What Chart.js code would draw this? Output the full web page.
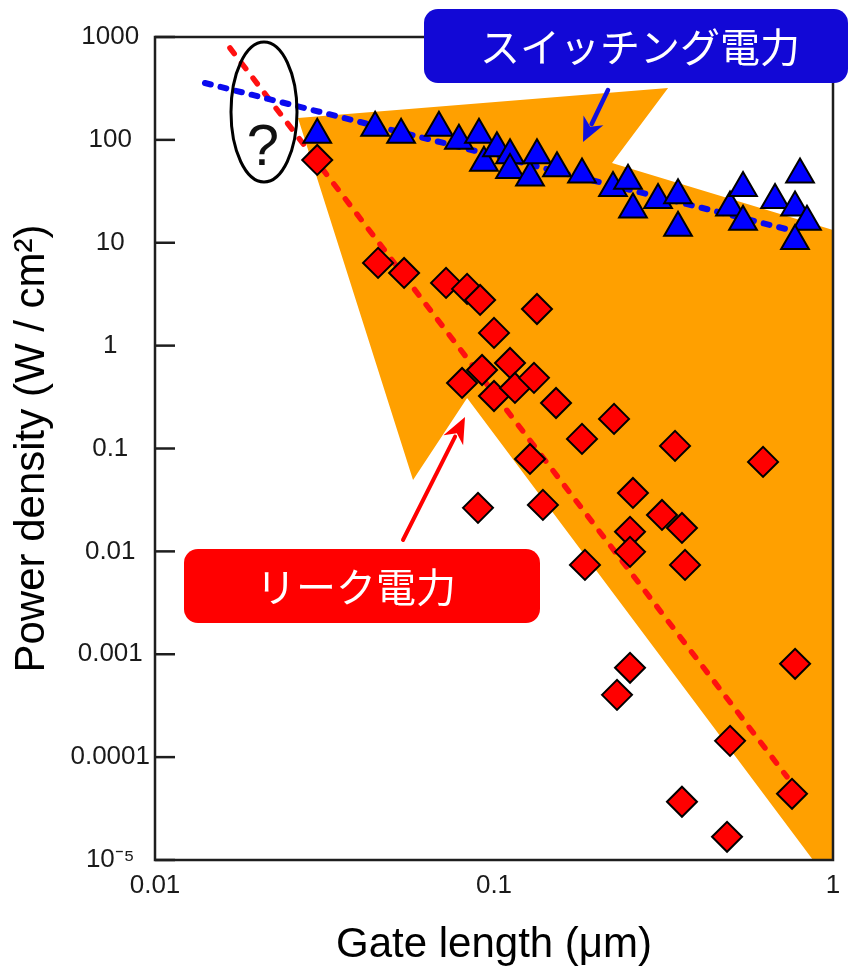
<!DOCTYPE html>
<html>
<head>
<meta charset="utf-8">
<script src="https://cdn.jsdelivr.net/npm/chart.js@4.4.1/dist/chart.umd.min.js"></script>
<style>
  html, body { margin: 0; padding: 0; background: #ffffff; }
  #wrap { width: 860px; height: 967px; position: relative; }
</style>
</head>
<body>
<div id="wrap"><canvas id="c" width="860" height="967"></canvas></div>
<script>
// ---- data ----
const switchX = [0.0301,0.0446,0.0532,0.0688,0.0788,0.0903,0.0934,0.102,0.1115,0.1115,0.1277,0.1339,0.1534,0.1818,0.2244,0.2485,0.257,0.3047,0.349,0.349,0.4969,0.5427,0.5427,0.6745,0.7726,0.7993,0.838,0.7726];
const switchY = [112,131,112,131,98,112,60,83,71,51,43,71,53,46,34,40,21,26,29,14,22,34,16,26,22,46,16,10.4];

const leakX = [0.0301,0.0455,0.0543,0.0722,0.0833,0.0910,0.1339,0.100,0.0922,0.1115,0.0805,0.100,0.1153,0.1312,0.1524,0.1818,0.226,0.342,0.6218,0.1277,0.0897,0.1394,0.257,0.313,0.3585,0.2519,0.2519,0.1855,0.366,0.2519,0.2306,0.773,0.497,0.3585,0.4869,0.757];
const leakY = [63.8,6.37,5.09,4.07,3.56,2.78,2.27,1.33,0.580,0.679,0.434,0.324,0.388,0.486,0.277,0.124,0.194,0.106,0.0741,0.0792,0.0265,0.0283,0.0370,0.0226,0.0169,0.0155,0.00989,0.00739,0.00739,0.000738,0.000403,0.000807,0.000144,3.68e-5,1.68e-5,4.40e-5];

const switchFitX = [0.01404, 0.7468];
const switchFitY = [357, 13.3];
const leakFitX = [0.01664, 0.7316];
const leakFitY = [782, 6.44e-5];

const regionX = [0.02641, 0.3262, 0.2229, 1.0, 1.0, 0.873, 0.0833, 0.0577];
const regionY = [163.2, 319.4, 59.6, 13.3, 1e-5, 1e-5, 0.310, 0.0495];

const xTickVals = [0.01, 0.1, 1];
const xTickLabels = ['0.01', '0.1', '1'];
const yTickVals = [1000, 100, 10, 1, 0.1, 0.01, 0.001, 0.0001, 0.00001];
const yTickLabels = ['1000', '100', '10', '1', '0.1', '0.01', '0.001', '0.0001', '10\u207B\u2075'];

const xTitle = 'Gate length (\u03BCm)';
const yTitle = 'Power density (W / cm\u00B2)';
const switchLabel = 'スイッチング電力';
const leakLabel = 'リーク電力';
const questionMark = '?';

// ---- helpers ----
const pts = (xs, ys) => xs.map((x, i) => ({x: x, y: ys[i]}));
const tickFont = {family: 'Liberation Sans, Arial, sans-serif', size: 26};

const overlay = {
  id: 'overlay',
  afterDatasetsDraw(chart) {
    const {ctx, chartArea: a, scales} = chart;
    ctx.save();
    // inward y ticks and frame
    ctx.strokeStyle = '#1e1e1e';
    ctx.lineWidth = 2.5;
    scales.y.ticks.forEach(t => {
      const py = scales.y.getPixelForValue(t.value);
      ctx.beginPath(); ctx.moveTo(a.left, py); ctx.lineTo(a.left + 20, py); ctx.stroke();
    });
    ctx.strokeRect(a.left, a.top, a.right - a.left, a.bottom - a.top);

    // ellipse with question mark
    ctx.lineWidth = 3;
    ctx.strokeStyle = '#000';
    ctx.beginPath();
    ctx.ellipse(264, 112, 33, 70, 0, 0, Math.PI * 2);
    ctx.stroke();
    ctx.fillStyle = '#111';
    ctx.font = '58px "Liberation Sans", Arial, sans-serif';
    ctx.textAlign = 'center';
    ctx.textBaseline = 'alphabetic';
    ctx.fillText(questionMark, 263, 165);

    // arrows
    function arrow(x1, y1, x2, y2, color, w, hl, hw) {
      const ang = Math.atan2(y2 - y1, x2 - x1);
      const bx = x2 - Math.cos(ang) * hl, by = y2 - Math.sin(ang) * hl;
      ctx.strokeStyle = color; ctx.fillStyle = color; ctx.lineWidth = w; ctx.lineCap = 'round';
      ctx.beginPath(); ctx.moveTo(x1, y1); ctx.lineTo(bx + Math.cos(ang) * 4, by + Math.sin(ang) * 4); ctx.stroke();
      const nx = -Math.sin(ang), ny = Math.cos(ang);
      ctx.beginPath();
      ctx.moveTo(x2, y2);
      ctx.lineTo(bx + nx * hw / 2, by + ny * hw / 2);
      ctx.lineTo(x2 - Math.cos(ang) * hl * 0.7, y2 - Math.sin(ang) * hl * 0.7);
      ctx.lineTo(bx - nx * hw / 2, by - ny * hw / 2);
      ctx.closePath(); ctx.fill();
    }
    arrow(608, 90, 583, 142, '#1010e0', 4.5, 24, 22);
    arrow(403, 540, 465, 417, '#ff0000', 4, 26, 22);

    function rbox(x, y, w, h, r, color) {
      ctx.fillStyle = color;
      ctx.beginPath();
      ctx.moveTo(x + r, y);
      ctx.arcTo(x + w, y, x + w, y + h, r);
      ctx.arcTo(x + w, y + h, x, y + h, r);
      ctx.arcTo(x, y + h, x, y, r);
      ctx.arcTo(x, y, x + w, y, r);
      ctx.closePath();
      ctx.fill();
    }
    // blue label
    rbox(424, 9, 424, 74, 14, '#1208d6');
    ctx.fillStyle = '#ffffff';
    ctx.font = '40px "Noto Sans CJK JP", sans-serif';
    ctx.textAlign = 'center';
    ctx.textBaseline = 'middle';
    ctx.fillText(switchLabel, 640, 47);
    // red label
    rbox(184, 549, 356, 74, 14, '#ff0000');
    ctx.fillStyle = '#ffffff';
    ctx.fillText(leakLabel, 356, 587);
    ctx.restore();
  }
};

new Chart(document.getElementById('c'), {
  type: 'scatter',
  data: {
    datasets: [
      { data: pts(leakX, leakY), pointStyle: 'rectRot', pointRadius: 15, pointHoverRadius: 15,
        backgroundColor: '#ff0000', borderColor: '#000000', borderWidth: 2, order: 0 },
      { data: pts(switchX, switchY), pointStyle: 'triangle', pointRadius: 16, pointHoverRadius: 16,
        backgroundColor: '#0000ff', borderColor: '#000000', borderWidth: 2, order: 1 },
      { data: pts(switchFitX, switchFitY), showLine: true, pointRadius: 0, borderColor: '#0a0aef',
        borderWidth: 6, borderDash: [6, 10], borderCapStyle: 'round', fill: false, order: 2 },
      { data: pts(leakFitX, leakFitY), showLine: true, pointRadius: 0, borderColor: '#ff1010',
        borderWidth: 5.5, borderDash: [7, 12], borderCapStyle: 'round', fill: false, order: 3 },
      { data: pts(regionX, regionY), showLine: true, pointRadius: 0, borderWidth: 0, borderColor: 'rgba(0,0,0,0)',
        backgroundColor: '#ffa000', fill: 'shape', tension: 0, order: 4 }
    ]
  },
  options: {
    responsive: false,
    animation: false,
    events: [],
    layout: { padding: { left: 0, right: 27, top: 37, bottom: 0 } },
    plugins: { legend: { display: false }, tooltip: { enabled: false } },
    scales: {
      x: {
        type: 'logarithmic', min: 0.01, max: 1,
        afterBuildTicks: s => { s.ticks = xTickVals.map(v => ({value: v})); },
        afterFit: s => { s.height = 107; },
        grid: { display: false, drawTicks: false },
        border: { display: false },
        ticks: { padding: 10, color: '#1a1a1a', font: tickFont, maxRotation: 0,
          callback: v => xTickLabels[xTickVals.indexOf(v)] },
        title: { display: true, text: xTitle, color: '#000',
          font: { family: 'Liberation Sans, Arial, sans-serif', size: 42, lineHeight: 1 },
          padding: { top: 0, bottom: 1 } }
      },
      y: {
        type: 'logarithmic', min: 0.00001, max: 1000,
        afterBuildTicks: s => { s.ticks = yTickVals.map(v => ({value: v})); },
        afterFit: s => { s.width = 155; },
        grid: { display: false, drawTicks: false },
        border: { display: false },
        ticks: { padding: 5, crossAlign: 'center', color: '#1a1a1a', font: tickFont,
          callback: v => yTickLabels[yTickVals.indexOf(v)] },
        title: { display: true, text: yTitle, color: '#000',
          font: { family: 'Liberation Sans, Arial, sans-serif', size: 42, lineHeight: 1 },
          padding: { top: 11, bottom: 0 } }
      }
    }
  },
  plugins: [overlay]
});
</script>
</body>
</html>
